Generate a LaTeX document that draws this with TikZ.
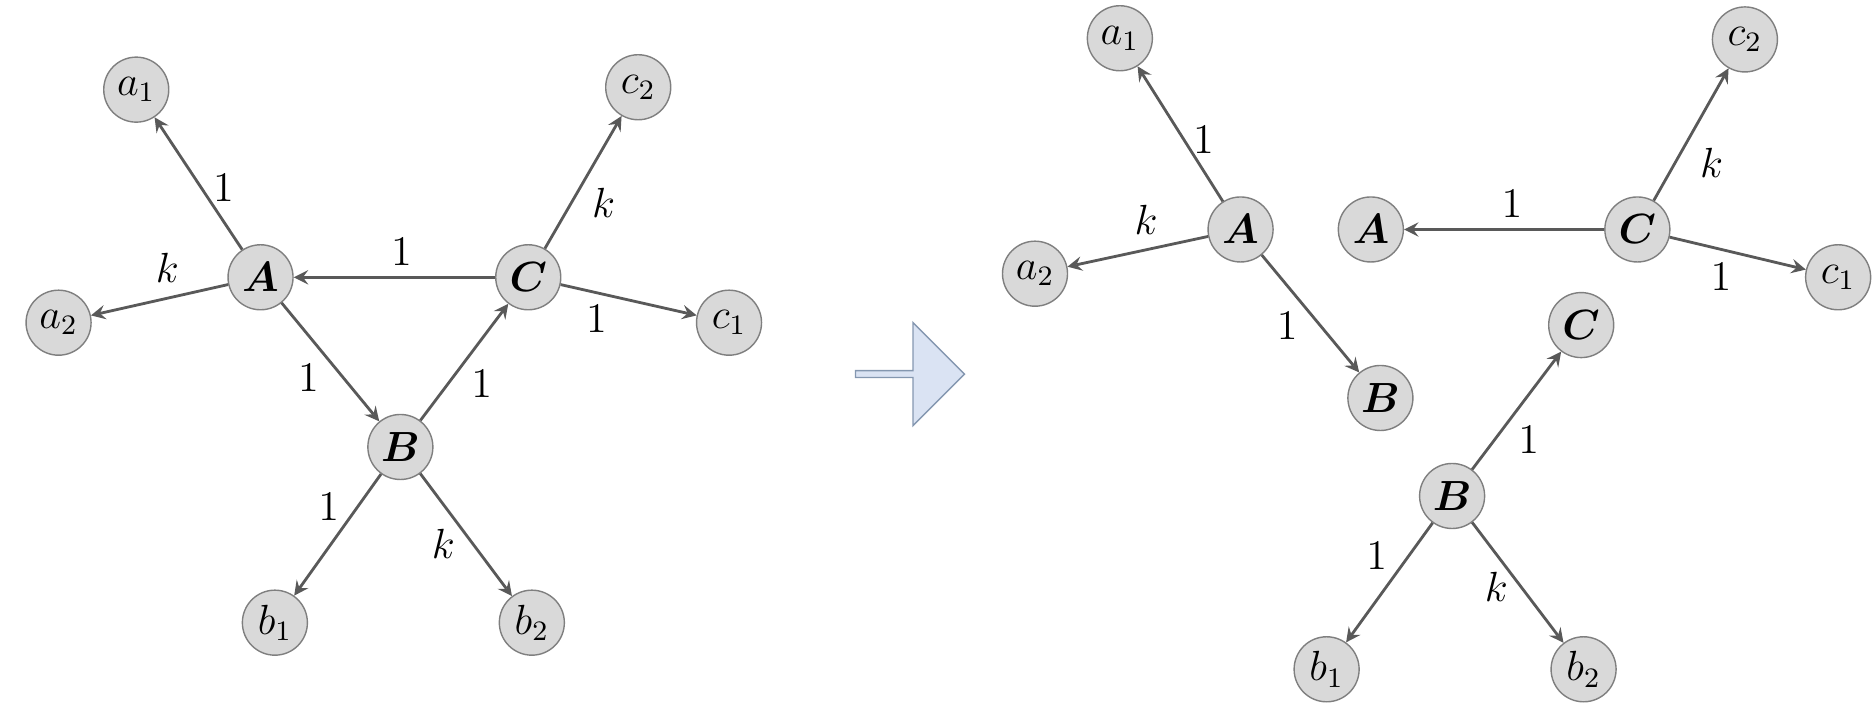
\documentclass[tikz,border=0pt]{standalone}
\usepackage{amsmath,amssymb}
\usepackage{bm}
\usepackage{tikz}
\usetikzlibrary{arrows,shapes.arrows}
\definecolor{nodeFill}{HTML}{D9D9D9}
\definecolor{nodeLine}{HTML}{7F7F7F}
\definecolor{edgeLine}{HTML}{595959}
\definecolor{bigArrow}{HTML}{DAE3F3}
\definecolor{bigArrowLine}{HTML}{8497B0}
\tikzset{
     mainNode/.style =
        { circle
        , draw=nodeLine
        , fill=nodeFill
        , text=black
        , minimum size=0.65cm
        , inner sep=0pt
        , font=\large
        },
     weightLabel/.style =
        { font=\large
        , text=black
        , inner sep=1pt
        }
}

\begin{document}
\begin{tikzpicture}
            [ x=0.01195cm
            , y=-0.01195cm
            , ->
            , >=stealth
            , edgeLine
            ]
            \useasboundingbox (0,0) rectangle (1568,599);

            % left graph
            \node[mainNode] (A) at (218,232) {$\bm{A}$};
            \node[mainNode] (C) at (442,232) {$\bm{C}$};
            \node[mainNode] (B) at (335,374) {$\bm{B}$};
            \node[mainNode] (a1) at (114,75) {$a_1$};
            \node[mainNode] (a2) at (49,270) {$a_2$};
            \node[mainNode] (c2) at (534,73) {$c_2$};
            \node[mainNode] (c1) at (610,270) {$c_1$};
            \node[mainNode] (b1) at (230,521) {$b_1$};
            \node[mainNode] (b2) at (445,521) {$b_2$};

            \path[every edge/.style={draw=edgeLine, thick, ->}]
            (A) edge (a1)
            (A) edge (a2)
            (C) edge (A)
            (A) edge (B)
            (B) edge (C)
            (C) edge (c2)
            (C) edge (c1)
            (B) edge (b1)
            (B) edge (b2)
            ;
            \node[weightLabel] (w1) at (187,157) {$1$};
            \node[weightLabel] (w2) at (140,224) {$k$};
            \node[weightLabel] (w3) at (336,211) {$1$};
            \node[weightLabel] (w4) at (258,316) {$1$};
            \node[weightLabel] (w5) at (403,321) {$1$};
            \node[weightLabel] (w6) at (505,170) {$k$};
            \node[weightLabel] (w7) at (499,267) {$1$};
            \node[weightLabel] (w8) at (275,424) {$1$};
            \node[weightLabel] (w9) at (371,455) {$k$};

            % big arrow
            \node[single arrow, draw=bigArrowLine, fill=bigArrow,
                  minimum width=1.03cm, single arrow head extend=0.1cm,
                  minimum height=1.09cm, inner sep=0pt, single arrow tip angle=90] (step) at (760,313) {};

            % right graphs
            \node[mainNode] (rA) at (1038,192) {$\bm{A}$};
            \node[mainNode] (ra1) at (937,32) {$a_1$};
            \node[mainNode] (ra2) at (866,229) {$a_2$};
            \node[mainNode] (rB) at (1155,333) {$\bm{B}$};
            \node[mainNode] (sA) at (1147,192) {$\bm{A}$};
            \node[mainNode] (sC) at (1370,192) {$\bm{C}$};
            \node[mainNode] (sc2) at (1460,33) {$c_2$};
            \node[mainNode] (sc1) at (1538,232) {$c_1$};
            \node[mainNode] (tC) at (1323,272) {$\bm{C}$};
            \node[mainNode] (tB) at (1215,415) {$\bm{B}$};
            \node[mainNode] (tb1) at (1110,560) {$b_1$};
            \node[mainNode] (tb2) at (1325,560) {$b_2$};

            \path[every edge/.style={draw=edgeLine, thick, ->}]
            (rA) edge (ra1)
            (rA) edge (ra2)
            (rA) edge (rB)
            (sC) edge (sA)
            (sC) edge (sc2)
            (sC) edge (sc1)
            (tB) edge (tC)
            (tB) edge (tb1)
            (tB) edge (tb2)
            ;
            \node[weightLabel] (v1) at (1007,117) {$1$};
            \node[weightLabel] (v2) at (959,184) {$k$};
            \node[weightLabel] (v3) at (1077,273) {$1$};
            \node[weightLabel] (v4) at (1265,171) {$1$};
            \node[weightLabel] (v5) at (1432,136) {$k$};
            \node[weightLabel] (v6) at (1440,232) {$1$};
            \node[weightLabel] (v7) at (1279,368) {$1$};
            \node[weightLabel] (v8) at (1152,465) {$1$};
            \node[weightLabel] (v9) at (1252,491) {$k$};
\end{tikzpicture}
\end{document}
